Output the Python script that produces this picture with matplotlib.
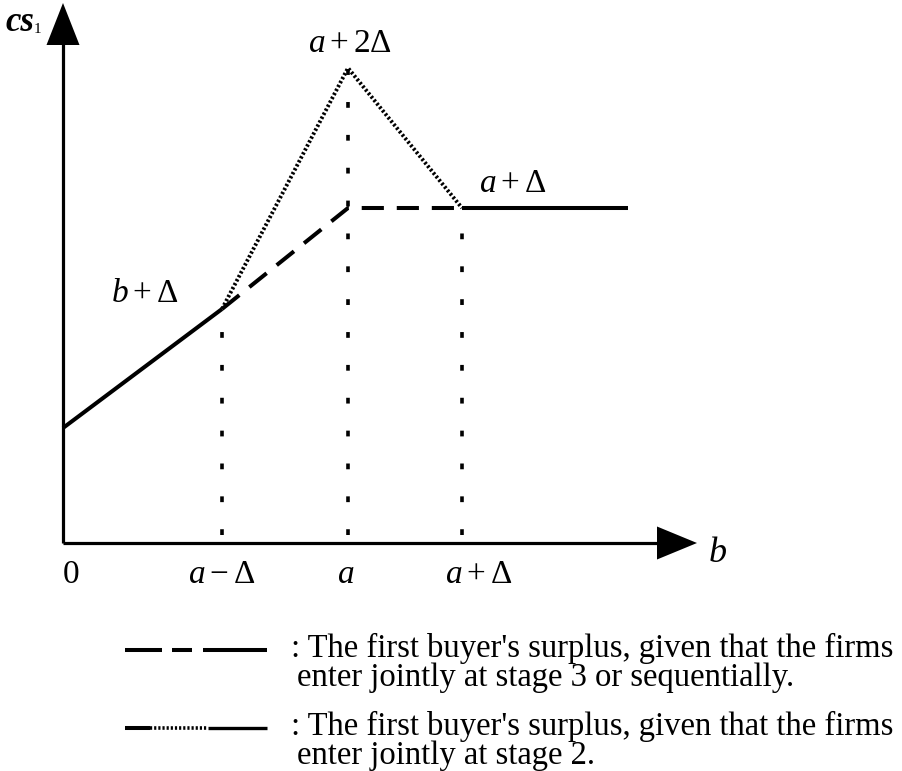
import matplotlib
matplotlib.use("Agg")
import matplotlib.pyplot as plt
from matplotlib.lines import Line2D

plt.rcParams['font.family'] = ['Liberation Serif', 'DejaVu Serif']
plt.rcParams['mathtext.fontset'] = 'custom'
plt.rcParams['mathtext.rm'] = 'Liberation Serif'
plt.rcParams['mathtext.it'] = 'Liberation Serif:italic'

# b values of the kinks: 0, a-Δ, a, a+Δ and the end of the drawn range
b_ticks = [0, 1.59, 2.85, 3.99]
b_labels = ['0', r'$a-\Delta$', r'$a$', r'$a+\Delta$']
b_end = 5.65

# surplus when firms enter jointly at stage 3 or sequentially
seq_b = [0, 1.59, 2.85, 3.99, 5.65]
seq_cs = [1.15, 2.34, 3.35, 3.35, 3.35]

# surplus when firms enter jointly at stage 2
st2_b = [1.59, 2.85, 3.99]
st2_cs = [2.34, 4.75, 3.35]

point_labels = [r'$b+\Delta$', r'$a+2\Delta$', r'$a+\Delta$']

legend_text = [
    (": The first buyer's surplus, given that the firms",
     "enter jointly at stage 3 or sequentially."),
    (": The first buyer's surplus, given that the firms",
     "enter jointly at stage 2."),
]

fig = plt.figure(figsize=(9.03, 7.71), dpi=100)
ax = fig.add_axes([0, 0, 1, 1])
ax.set_xlim(-0.63, 8.40)
ax.set_ylim(-2.28, 5.43)
ax.axis('off')

k = 'black'
lw = 2.9
dense = (0, (0.6, 0.55))

# axes with filled arrow heads
ax.plot([0, 0], [0, 5.0], color=k, lw=2.3, solid_capstyle='butt')
ax.plot([0, 5.95], [0, 0], color=k, lw=2.3, solid_capstyle='butt')
ax.fill([-0.165, 0.165, 0], [4.98, 4.98, 5.40], color=k, lw=0)
ax.fill([5.94, 5.94, 6.34], [0.165, -0.165, 0], color=k, lw=0)

# solid parts
ax.plot(seq_b[:2], seq_cs[:2], color=k, lw=lw, solid_capstyle='butt')
ax.plot(seq_b[3:], seq_cs[3:], color=k, lw=lw, solid_capstyle='butt')
# dashed middle part
ax.plot(seq_b[1:4], seq_cs[1:4], color=k, lw=lw, linestyle=(0, (5.5, 3.2)))
# stage-2 peak, dense dots
ax.plot(st2_b, st2_cs, color=k, lw=2.8, linestyle=dense)

# vertical guides
for xb, top in zip(b_ticks[1:], st2_cs):
    ax.plot([xb, xb], [0.08, top], color=k, lw=2.6, linestyle=(0, (1.6, 7.5)))

# axis texts
fs = 24
tick_dx = [0.08, 0, -0.02, 0.17]
for xb, lab, dx in zip(b_ticks, b_labels, tick_dx):
    ax.text(xb + dx, -0.40, lab, fontsize=fs, ha='center', va='baseline')
ax.text(6.54, -0.10, r'$b$', fontsize=fs + 2, ha='center', va='center')
ax.text(-0.58, 5.12, 'cs', fontsize=fs + 1, style='italic', weight='bold',
        ha='left', va='baseline')
ax.text(-0.29, 5.10, '1', fontsize=11, ha='left', va='baseline')

# point labels
ax.text(st2_b[0] - 0.77, st2_cs[0] + 0.07, point_labels[0], fontsize=fs,
        ha='center', va='baseline')
ax.text(st2_b[1] + 0.02, st2_cs[1] + 0.16, point_labels[1], fontsize=fs,
        ha='center', va='baseline')
ax.text(st2_b[2] + 0.51, st2_cs[2] + 0.16, point_labels[2], fontsize=fs,
        ha='center', va='baseline')

# legend drawn by hand
ly1, ly2 = -1.07, -1.85
for x0, x1 in [(0.62, 0.99), (1.09, 1.29), (1.40, 2.04)]:
    ax.add_line(Line2D([x0, x1], [ly1, ly1], color=k, lw=lw,
                       solid_capstyle='butt'))
ax.add_line(Line2D([0.62, 0.87], [ly2, ly2], color=k, lw=lw,
                   solid_capstyle='butt'))
ax.add_line(Line2D([0.87, 1.45], [ly2, ly2], color=k, lw=2.6, linestyle=dense))
ax.add_line(Line2D([1.45, 2.04], [ly2, ly2], color=k, lw=2.4,
                   solid_capstyle='butt'))

lfs = 23.5
for ly, (first, second) in zip([ly1, ly2], legend_text):
    ax.text(2.28, ly - 0.07, first, fontsize=lfs, ha='left', va='baseline')
    ax.text(2.34, ly - 0.36, second, fontsize=lfs, ha='left', va='baseline')

fig.savefig('out.png', dpi=100)
